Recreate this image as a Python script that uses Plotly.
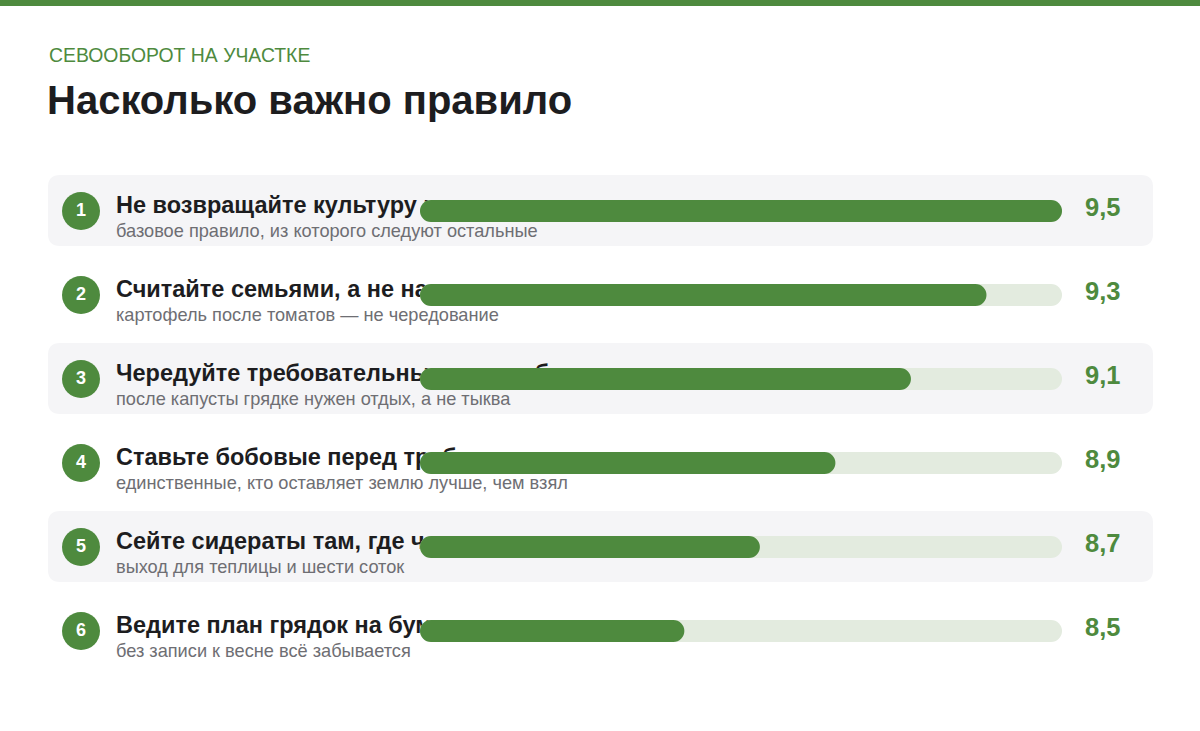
import plotly.graph_objects as go

# ---------------- data ----------------
RANKS = ["1", "2", "3", "4", "5", "6"]
TITLES = [
    "Не возвращайте культуру на прежнее место подряд",
    "Считайте семьями, а не названиями",
    "Чередуйте требовательные с нетребовательными",
    "Ставьте бобовые перед требовательными культурами",
    "Сейте сидераты там, где чередовать некуда",
    "Ведите план грядок на бумаге",
]
SUBTITLES = [
    "базовое правило, из которого следуют остальные",
    "картофель после томатов — не чередование",
    "после капусты грядке нужен отдых, а не тыква",
    "единственные, кто оставляет землю лучше, чем взял",
    "выход для теплицы и шести соток",
    "без записи к весне всё забывается",
]
VALUES = [9.5, 9.3, 9.1, 8.9, 8.7, 8.5]
VALUE_LABELS = ["9,5", "9,3", "9,1", "8,9", "8,7", "8,5"]
KICKER = "СЕВООБОРОТ НА УЧАСТКЕ"
HEADLINE = "Насколько важно правило"
SCALE_MIN = 7.8
SCALE_MAX = 9.5

# ---------------- style / geometry ----------------
W, H = 1200, 731
GREEN = "#4e8a3e"
TRACK = "#e3ebdf"
CARD = "#f5f5f7"
DARK = "#1d1d1f"
GREY = "#6e6e73"
FONT = "Liberation Sans, Arial, sans-serif"

ROW_Y0, ROW_STEP = 211, 84
TRACK_PX0, TRACK_PX1 = 420, 1062
BAR_PX = 22

n = len(VALUES)
rows = list(range(n))
row_px = [ROW_Y0 + ROW_STEP * i for i in rows]

px_per_unit = (TRACK_PX1 - TRACK_PX0) / (SCALE_MAX - SCALE_MIN)
x2_range = [SCALE_MIN - TRACK_PX0 / px_per_unit, SCALE_MAX + (W - TRACK_PX1) / px_per_unit]
y2_range = [(H - ROW_Y0) / ROW_STEP, -ROW_Y0 / ROW_STEP]
bar_w = BAR_PX / ROW_STEP

fig = go.Figure()

# ---- lower layer (pixel-coordinate axes): titles, subtitles, badges, values ----
fig.add_trace(go.Scatter(
    x=[116] * n, y=[p - 4 for p in row_px], text=TITLES, mode="text",
    textposition="middle right", cliponaxis=False, hoverinfo="skip",
    textfont=dict(family=FONT, size=23.5, color=DARK, weight="bold"),
    xaxis="x", yaxis="y", showlegend=False))
fig.add_trace(go.Scatter(
    x=[116] * n, y=[p + 21 for p in row_px], text=SUBTITLES, mode="text",
    textposition="middle right", cliponaxis=False, hoverinfo="skip",
    textfont=dict(family=FONT, size=18.2, color=GREY),
    xaxis="x", yaxis="y", showlegend=False))
fig.add_trace(go.Scatter(
    x=[81] * n, y=row_px, text=RANKS, mode="markers+text",
    textposition="middle center", cliponaxis=False, hoverinfo="skip",
    marker=dict(size=38, color=GREEN, line=dict(width=0)),
    textfont=dict(family=FONT, size=18, color="white", weight="bold"),
    xaxis="x", yaxis="y", showlegend=False))
fig.add_trace(go.Scatter(
    x=[1085] * n, y=[p - 1 for p in row_px], text=VALUE_LABELS, mode="text",
    textposition="middle right", cliponaxis=False, hoverinfo="skip",
    textfont=dict(family=FONT, size=25.5, color=GREEN, weight="bold"),
    xaxis="x", yaxis="y", showlegend=False))

# ---- upper layer (value axes): tracks and bars (pill shaped) ----
def pill(values, color):
    fig.add_trace(go.Bar(
        y=rows, x=[v - SCALE_MIN for v in values], base=[SCALE_MIN] * n,
        orientation="h", width=bar_w,
        marker=dict(color=color, line=dict(width=0), cornerradius=BAR_PX // 2),
        hoverinfo="skip", showlegend=False, xaxis="x2", yaxis="y2"))

pill([SCALE_MAX] * n, TRACK)
pill(VALUES, GREEN)

# ---- shapes: top stripe and alternating cards ----
shapes = [dict(type="rect", xref="paper", yref="paper", x0=0, x1=1, y0=1 - 6 / H, y1=1,
               fillcolor=GREEN, line=dict(width=0), layer="below")]

def rounded(x0, y0, x1, y1, r):
    return (f"M{x0+r},{y0} L{x1-r},{y0} Q{x1},{y0} {x1},{y0+r} L{x1},{y1-r} "
            f"Q{x1},{y1} {x1-r},{y1} L{x0+r},{y1} Q{x0},{y1} {x0},{y1-r} "
            f"L{x0},{y0+r} Q{x0},{y0} {x0+r},{y0} Z")

for i in rows:
    if i % 2 == 0:
        yc = row_px[i] - 0.5
        shapes.append(dict(type="path", xref="x", yref="y",
                           path=rounded(48, yc - 35.5, 1153, yc + 35.5, 12),
                           fillcolor=CARD, line=dict(width=0), layer="below"))

fig.update_layout(
    width=W, height=H,
    margin=dict(l=0, r=0, t=0, b=0),
    paper_bgcolor="white", plot_bgcolor="rgba(0,0,0,0)",
    barmode="overlay",
    shapes=shapes,
    xaxis=dict(range=[0, W], visible=False, fixedrange=True),
    yaxis=dict(range=[H, 0], visible=False, fixedrange=True),
    xaxis2=dict(range=x2_range, overlaying="x", visible=False, fixedrange=True),
    yaxis2=dict(range=y2_range, overlaying="y", visible=False, fixedrange=True),
    annotations=[
        dict(text=KICKER, xref="paper", yref="paper", x=47 / W, y=1 - 55 / H,
             xanchor="left", yanchor="middle", showarrow=False,
             font=dict(family=FONT, size=19.4, color=GREEN)),
        dict(text=HEADLINE, xref="paper", yref="paper", x=45 / W, y=1 - 100 / H,
             xanchor="left", yanchor="middle", showarrow=False,
             font=dict(family=FONT, size=40, color=DARK, weight="bold")),
    ],
    showlegend=False,
)

fig.write_html("out.html", config={"displayModeBar": False},
               post_script="document.body.style.margin='0';")
